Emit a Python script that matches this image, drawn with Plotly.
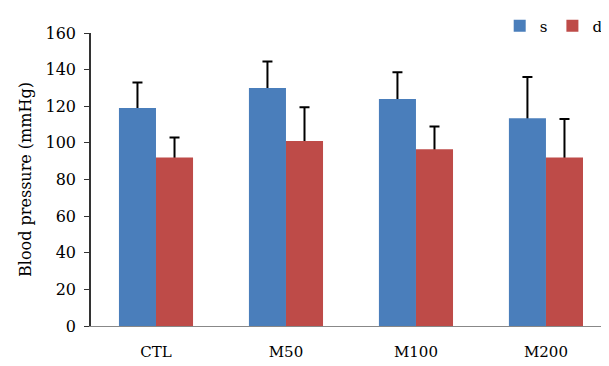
import plotly.graph_objects as go

categories = ["CTL", "M50", "M100", "M200"]
s_values = [119, 130, 124, 113.5]
s_errors = [14, 14.5, 14.5, 22.5]
d_values = [92, 101, 96.5, 92]
d_errors = [11, 18.5, 12.5, 21]

font_family = "DejaVu Serif"
blue = "#4a7ebb"
red = "#be4b48"

fig = go.Figure()
# error bars on the base subplot (drawn beneath the visible bars)
for vals, errs in ((s_values, s_errors), (d_values, d_errors)):
    fig.add_trace(go.Bar(
        x=categories, y=vals, showlegend=False, hoverinfo="skip",
        marker=dict(color="rgba(0,0,0,0)", line=dict(width=0)),
        error_y=dict(type="data", array=errs, color="black",
                     thickness=2, width=5),
        xaxis="x", yaxis="y",
    ))
# visible bars on an overlaid x axis (drawn on top, hiding lower halves)
fig.add_trace(go.Bar(x=categories, y=s_values, name="s",
                     marker=dict(color=blue, line=dict(width=0)),
                     xaxis="x2", yaxis="y"))
fig.add_trace(go.Bar(x=categories, y=d_values, name="d",
                     marker=dict(color=red, line=dict(width=0)),
                     xaxis="x2", yaxis="y"))

xrange = [-0.5, 3.485]
fig.update_layout(
    width=609, height=366,
    margin=dict(l=83, r=8, t=25, b=48, autoexpand=False),
    paper_bgcolor="white", plot_bgcolor="white",
    barmode="group", bargap=0.43, bargroupgap=0,
    font=dict(family=font_family, size=14, color="black"),
    showlegend=True,
    legend=dict(orientation="h", x=0.789, y=1.024, xanchor="left",
                yanchor="middle", font=dict(size=15), itemwidth=30,
                bgcolor="rgba(0,0,0,0)"),
    xaxis=dict(range=xrange, showline=True, linecolor="#888888",
               linewidth=1, ticks="", showgrid=False, zeroline=False,
               tickfont=dict(size=15), ticklabelstandoff=12),
    xaxis2=dict(range=xrange, overlaying="x", visible=False,
                showgrid=False, zeroline=False),
    yaxis=dict(range=[0, 160], dtick=20, showline=True, linecolor="#333333",
               linewidth=1.5, ticks="outside", ticklen=5, tickcolor="#333333",
               showgrid=False, zeroline=False, tickfont=dict(size=16),
               ticklabelstandoff=5,
               title=dict(text="Blood pressure (mmHg)", font=dict(size=16),
                          standoff=10)),
)

fig.write_html("out.html")
